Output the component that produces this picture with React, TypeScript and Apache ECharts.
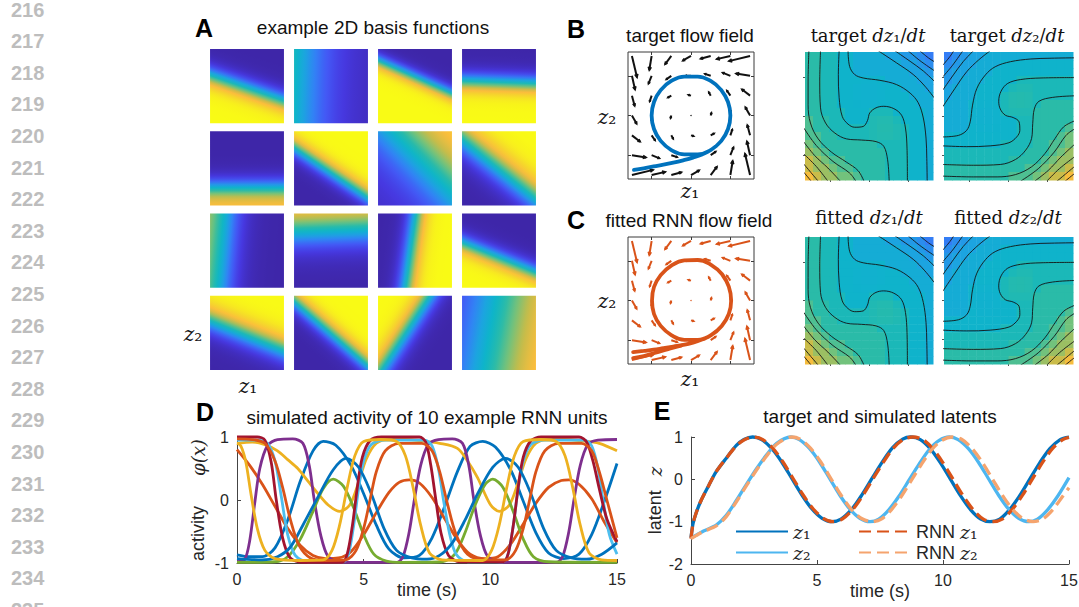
import React, { useEffect, useRef } from "react";
import * as echarts from "echarts";

const SANS = "'Liberation Sans', Arial, Helvetica, sans-serif";
const SERIF = "'DejaVu Serif', 'Liberation Serif', serif";
const INK = "#111111";
const AXIS = "#262626";

// ---------------- margin line numbers ----------------
const lineNumbers = ["216","217","218","219","220","221","222","223","224","225","226","227","228","229","230","231","232","233","234","235"];

// ---------------- panel A: basis tiles [col,row,centerX,centerY,angleDeg,width,low,high] ----------------
const basisTiles = [
  [0, 0, 0.5, 0.53, 109, 0.14, 0, 1],
  [1, 0, -0.05, 0.5, 182, 0.6, 0.02, 1],
  [2, 0, 0.5, 0.38, 114, 0.1, 0, 1],
  [3, 0, 0.5, 0.45, 92, 0.14, 0, 1],
  [0, 1, 0.5, 0.76, 90, 0.15, 0, 0.88],
  [1, 1, 0.5, 0.55, -56, 0.12, 0, 1],
  [2, 1, 0.62, 0.38, -44, 0.45, 0.05, 0.95],
  [3, 1, 0.5, 0.5, -51, 0.2, 0, 1],
  [0, 2, 0.18, 0.5, 185, 0.25, 0, 0.8],
  [1, 2, 0.5, 0.22, -92, 0.28, 0, 0.95],
  [2, 2, 0.45, 0.5, 8, 0.14, 0, 1],
  [3, 2, 0.5, 0.6, 112, 0.13, 0, 1],
  [0, 3, 0.5, 0.53, -68, 0.18, 0, 1],
  [1, 3, 0.5, 0.5, -49, 0.12, 0, 1],
  [2, 3, 0.4, 0.45, -147, 0.15, 0, 1],
  [3, 3, 0.45, 0.5, 10, 0.7, 0, 1],
];

// ---------------- panels B/C: quiver grid (rows from z2=1.5 down to -1.5) ----------------
const flowGrid = [-1.5, -1, -0.5, 0, 0.5, 1, 1.5];
const targetFlowU = [
  [0.13, -0.06, -0.16, -0.21, -0.26, -0.35, -0.54],
  [0.08, -0.08, -0.13, -0.14, -0.15, -0.2, -0.36],
  [0.07, -0.05, -0.09, -0.07, -0.05, -0.09, -0.21],
  [0.12, 0, -0.02, 0, 0.02, 0, -0.12],
  [0.21, 0.09, 0.05, 0.07, 0.09, 0.05, -0.07],
  [0.36, 0.2, 0.15, 0.14, 0.13, 0.08, -0.08],
  [0.54, 0.35, 0.26, 0.21, 0.16, 0.06, -0.13],
];
const targetFlowV = [
  [-0.54, -0.36, -0.21, -0.12, -0.07, -0.08, -0.13],
  [-0.35, -0.2, -0.09, 0, 0.05, 0.08, 0.06],
  [-0.26, -0.15, -0.05, 0.02, 0.09, 0.13, 0.16],
  [-0.21, -0.14, -0.07, 0, 0.07, 0.14, 0.21],
  [-0.16, -0.13, -0.09, -0.02, 0.05, 0.15, 0.26],
  [-0.06, -0.08, -0.05, 0, 0.09, 0.2, 0.35],
  [0.13, 0.08, 0.07, 0.12, 0.21, 0.36, 0.54],
];
// the fitted field reads identically at this resolution
const fittedFlowU = targetFlowU;
const fittedFlowV = targetFlowV;

const targetTrajectory = [
  [-1.45, -1.37], [-1.2, -1.33], [-0.95, -1.28], [-0.7, -1.24], [-0.45, -1.19], [-0.2, -1.13], [0.05, -1.06], [0.28, -0.98], [0.5, -0.87],
  [0.77, -0.64], [0.94, -0.34], [1, 0], [0.94, 0.34], [0.77, 0.64], [0.5, 0.87], [0.17, 0.98], [-0.17, 0.98], [-0.5, 0.87], [-0.77, 0.64],
  [-0.94, 0.34], [-1, 0], [-0.94, -0.34], [-0.77, -0.64], [-0.5, -0.87], [-0.17, -0.98], [0.17, -0.98], [0.5, -0.87], [0.77, -0.64],
  [0.94, -0.34], [1, 0], [0.94, 0.34], [0.77, 0.64],
];
const fittedTrajectory = [
  [-1.47, -1.3], [-1.2, -1.27], [-0.95, -1.24], [-0.7, -1.2], [-0.45, -1.16], [-0.2, -1.12], [0.05, -1.06], [0.28, -0.98], [0.5, -0.88],
  [0.78, -0.64], [0.96, -0.34], [1.02, 0], [0.96, 0.35], [0.79, 0.66], [0.51, 0.9], [0.17, 1.02], [-0.17, 1.01], [-0.5, 0.88], [-0.77, 0.64],
  [-0.94, 0.34], [-0.99, 0], [-0.94, -0.34], [-0.77, -0.64], [-0.5, -0.87], [-0.17, -0.99], [0.17, -0.99], [0.5, -0.88], [0.78, -0.64],
  [0.96, -0.34], [1.02, 0], [0.96, 0.35], [0.79, 0.66],
];
const fittedTrajectoryArm = [[-1.47, -1.45], [-1.2, -1.4], [-0.95, -1.33], [-0.7, -1.26], [-0.45, -1.19], [-0.25, -1.14]];

// ---------------- panels B/C: dz/dt fields (band levels, 16x16, top row first) ----------------
const dz1Levels = [
  [7, 7, 6, 6, 5, 5, 4, 4, 4, 4, 3, 3, 2, 2, 1, 0],
  [7, 7, 6, 6, 5, 5, 4, 4, 4, 4, 4, 4, 3, 3, 2, 1],
  [7, 7, 6, 6, 5, 5, 4, 4, 4, 4, 4, 4, 4, 3, 3, 2],
  [7, 7, 6, 6, 5, 5, 5, 4.8, 4.8, 5, 4, 4, 4, 4, 3, 3],
  [7, 7, 6, 6, 5, 5, 4.8, 4.7, 4.7, 4.8, 5, 5, 4, 4, 4, 3],
  [7, 7, 6, 6, 5, 5, 4.8, 4.7, 4.7, 4.8, 5, 5, 5, 4, 4, 4],
  [7, 7, 6, 6, 5, 5, 4.9, 4.8, 4.8, 5, 5, 5, 5, 5, 4, 4],
  [7, 7, 6, 6, 6, 5, 5, 5, 6, 6, 6, 5, 5, 5, 5, 4],
  [8, 7, 7, 6, 6, 5, 5, 5, 6.3, 6.5, 6.5, 6, 5, 5, 5, 4],
  [8, 7, 7, 6, 6, 6, 6, 6, 6.3, 6.6, 6.6, 6.3, 6, 5, 5, 4],
  [8, 8, 7, 7, 6, 6, 6, 6, 6.3, 6.5, 6.5, 6.3, 6, 5, 5, 4],
  [9, 8, 7, 7, 7, 7, 7, 7, 7, 6, 6, 6, 6, 5, 5, 4],
  [10, 9, 8, 7, 7, 7, 7, 7, 7, 7, 6, 6, 6, 5, 5, 4],
  [11, 10, 9, 8, 8, 7, 7, 7, 7, 7, 6, 6, 6, 5, 5, 4],
  [11, 10, 10, 9, 8, 8, 7, 7, 7, 7, 6, 6, 6, 5, 5, 4],
  [12, 11, 10, 10, 9, 9, 8, 7, 7, 7, 6, 6, 6, 5, 5, 4],
];
const dz2Levels = [
  [0, 1, 2, 3, 3, 4, 4, 4, 4, 4, 4, 4, 4, 4, 4, 4],
  [1, 2, 3, 3, 4, 4, 4, 5, 5, 5, 5, 5, 5, 5, 5, 5],
  [2, 3, 3, 4, 4, 4, 5, 5, 5, 5, 5, 5, 5, 5, 5, 5],
  [2, 3, 4, 4, 4, 5, 5, 5, 5, 6, 6, 6, 6, 6, 6, 6],
  [3, 4, 4, 4, 5, 5, 5, 5, 6, 6.3, 6.3, 6, 6, 6, 6, 6],
  [3, 4, 4, 4, 5, 5, 5, 6, 6.5, 6.6, 6.5, 6, 6, 6, 6, 6],
  [4, 4, 4, 5, 4.8, 4.8, 5, 6, 6.5, 6.6, 6.5, 6, 7, 7, 7, 7],
  [4, 4, 4, 4.8, 4.7, 4.7, 4.8, 6, 6.3, 6.3, 6.3, 7, 7, 7, 7, 7],
  [4, 4, 4, 4.8, 4.7, 4.7, 4.8, 5, 5, 6, 6, 7, 7, 7, 7, 7],
  [4, 4, 4, 5, 4.8, 4.8, 4.9, 5, 5, 6, 6, 7, 7, 7, 7, 8],
  [5, 5, 5, 5, 5, 5, 5, 5, 5, 6, 6, 7, 7, 7, 8, 9],
  [5, 5, 5, 5, 5, 5, 5, 6, 6, 6, 6, 7, 7, 8, 8, 9],
  [6, 6, 6, 6, 6, 6, 6, 6, 6, 6, 7, 7, 7, 8, 9, 10],
  [6, 6, 6, 6, 6, 6, 6, 6, 7, 7, 7, 7, 8, 9, 10, 10],
  [7, 7, 7, 7, 7, 7, 7, 7, 7, 7, 8, 8, 9, 10, 10, 11],
  [7, 7, 7, 7, 7, 7, 7, 7, 8, 8, 8, 9, 10, 11, 11, 12],
];
const dz1Contours = [
  [[1.31, 1.68], [1.53, 1.5], [1.68, 1.4]],
  [[1.01, 1.68], [1.31, 1.43], [1.68, 1.17]],
  [[0.67, 1.68], [1.06, 1.41], [1.4, 1.16], [1.68, 0.9]],
  [[0.24, 1.68], [0.71, 1.37], [1.14, 1.07], [1.44, 0.77], [1.68, 0.47]],
  [[-0.54, 1.68], [-0.5, 1.28], [-0.37, 1.07], [-0.15, 0.98], [0.28, 0.92], [0.71, 0.81], [1.06, 0.59], [1.27, 0.34], [1.4, -0.05], [1.47, -0.57], [1.49, -1.09], [1.5, -1.68]],
  [[-0.77, 1.68], [-0.79, 1.07], [-0.77, 0.47], [-0.69, -0.01], [-0.54, -0.21], [-0.37, -0.29], [-0.15, -0.27], [-0.04, -0.12], [0.02, 0.08], [0.18, 0.21], [0.38, 0.25], [0.64, 0.19], [0.84, 0.02], [0.94, -0.31], [0.98, -0.83], [0.99, -1.68]],
  [[-1.25, 1.68], [-1.27, 0.9], [-1.25, 0.21], [-1.12, -0.18], [-0.88, -0.44], [-0.58, -0.59], [-0.19, -0.62], [0.18, -0.66], [0.38, -0.78], [0.48, -1.13], [0.52, -1.68]],
  [[-1.55, 1.68], [-1.57, 0.9], [-1.57, 0.29], [-1.51, -0.18], [-1.31, -0.59], [-0.97, -0.93], [-0.58, -1.19], [-0.28, -1.41], [-0.13, -1.68]],
  [[-1.68, -0.31], [-1.36, -0.76], [-0.93, -1.17], [-0.5, -1.47], [-0.34, -1.68]],
  [[-1.68, -0.67], [-1.4, -1.02], [-1.06, -1.34], [-0.74, -1.68]],
  [[-1.68, -0.98], [-1.36, -1.3], [-1.06, -1.68]],
  [[-1.68, -1.24], [-1.31, -1.68]],
  [[-1.68, -1.45], [-1.49, -1.68]],
];
const dz2Contours = [
  [[-1.68, 1.31], [-1.5, 1.53], [-1.4, 1.68]],
  [[-1.68, 1.01], [-1.43, 1.31], [-1.17, 1.68]],
  [[-1.68, 0.67], [-1.41, 1.06], [-1.16, 1.4], [-0.9, 1.68]],
  [[-1.68, 0.24], [-1.37, 0.71], [-1.07, 1.14], [-0.77, 1.44], [-0.47, 1.68]],
  [[-1.68, -0.54], [-1.28, -0.5], [-1.07, -0.37], [-0.98, -0.15], [-0.92, 0.28], [-0.81, 0.71], [-0.59, 1.06], [-0.34, 1.27], [0.05, 1.4], [0.57, 1.47], [1.09, 1.49], [1.68, 1.5]],
  [[-1.68, -0.77], [-1.07, -0.79], [-0.47, -0.77], [0.01, -0.69], [0.21, -0.54], [0.29, -0.37], [0.27, -0.15], [0.12, -0.04], [-0.08, 0.02], [-0.21, 0.18], [-0.25, 0.38], [-0.19, 0.64], [-0.02, 0.84], [0.31, 0.94], [0.83, 0.98], [1.68, 0.99]],
  [[-1.68, -1.25], [-0.9, -1.27], [-0.21, -1.25], [0.18, -1.12], [0.44, -0.88], [0.59, -0.58], [0.62, -0.19], [0.66, 0.18], [0.78, 0.38], [1.13, 0.48], [1.68, 0.52]],
  [[-1.68, -1.55], [-0.9, -1.57], [-0.29, -1.57], [0.18, -1.51], [0.59, -1.31], [0.93, -0.97], [1.19, -0.58], [1.41, -0.28], [1.68, -0.13]],
  [[0.31, -1.68], [0.76, -1.36], [1.17, -0.93], [1.47, -0.5], [1.68, -0.34]],
  [[0.67, -1.68], [1.02, -1.4], [1.34, -1.06], [1.68, -0.74]],
  [[0.98, -1.68], [1.3, -1.36], [1.68, -1.06]],
  [[1.24, -1.68], [1.68, -1.31]],
  [[1.45, -1.68], [1.68, -1.49]],
];

// ---------------- panel D: 10 RNN units [time, activity] ----------------
const unit1 = [[0,-0.87],[0.5,-0.9],[1,-0.9],[1.5,-0.76],[2,-0.32],[2.5,0.3],[3,0.78],[3.4,0.93],[3.9,0.87],[4.5,0.55],[5,0.1],[5.5,-0.4],[6,-0.78],[6.6,-0.92],[7.2,-0.88],[7.7,-0.6],[8.2,-0.1],[8.7,0.45],[9.2,0.85],[9.7,0.93],[10.2,0.84],[10.8,0.48],[11.3,-0.02],[11.8,-0.52],[12.3,-0.84],[12.9,-0.93],[13.5,-0.86],[14,-0.55],[14.5,-0.02],[15,0.58]];
const unit2 = [[0,0.8],[0.5,0.55],[1,0.25],[1.5,-0.1],[2,-0.45],[2.5,-0.72],[3,-0.88],[3.5,-0.93],[4,-0.92],[4.5,-0.82],[5,-0.55],[5.5,-0.2],[6,0.12],[6.4,0.28],[6.8,0.32],[7.2,0.27],[7.7,0.04],[8.2,-0.3],[8.7,-0.63],[9.2,-0.86],[9.8,-0.93],[10.3,-0.9],[10.8,-0.7],[11.3,-0.38],[11.8,-0.05],[12.3,0.2],[12.8,0.31],[13.1,0.32],[13.5,0.25],[14,0.02],[14.5,-0.35],[15,-0.68]];
const unit3 = [[0,0.9],[0.6,0.92],[1.1,0.88],[1.6,0.78],[2,0.64],[2.4,0.5],[2.8,0.3],[3.2,0.1],[3.6,-0.08],[4.05,-0.18],[4.45,-0.08],[4.8,0.28],[5.1,0.65],[5.5,0.9],[6,0.96],[6.6,0.96],[7.3,0.94],[8,0.9],[8.7,0.82],[9.1,0.62],[9.5,0.35],[10,-0.07],[10.35,-0.18],[10.75,-0.08],[11.1,0.28],[11.4,0.65],[11.8,0.9],[12.3,0.96],[12.9,0.96],[13.6,0.94],[14.3,0.9],[15,0.78]];
const unit4 = [[0,-0.98],[0.3,-0.95],[0.5,-0.65],[0.7,-0.05],[0.9,0.5],[1.2,0.86],[1.6,0.96],[2.2,0.97],[2.6,0.9],[2.85,0.55],[3.05,0],[3.3,-0.55],[3.6,-0.9],[4.1,-0.99],[6.3,-0.99],[6.55,-0.9],[6.8,-0.5],[7,0],[7.25,0.55],[7.55,0.88],[7.95,0.96],[8.5,0.97],[8.9,0.9],[9.15,0.55],[9.35,0],[9.6,-0.55],[9.9,-0.9],[10.4,-0.99],[12.6,-0.99],[12.85,-0.9],[13.1,-0.5],[13.3,0],[13.55,0.55],[13.85,0.88],[14.25,0.95],[15,0.96]];
const unit5 = [[0,-0.99],[1.5,-0.98],[2,-0.9],[2.5,-0.62],[3,-0.18],[3.4,0.18],[3.8,0.33],[4.2,0.22],[4.6,-0.12],[5,-0.55],[5.4,-0.86],[5.9,-0.97],[6.5,-0.99],[8.1,-0.98],[8.6,-0.86],[9,-0.52],[9.4,-0.08],[9.8,0.25],[10.1,0.33],[10.5,0.2],[10.9,-0.18],[11.3,-0.62],[11.7,-0.9],[12.3,-0.98],[15,-0.99]];
const unit6 = [[0,0.95],[0.8,0.95],[1.2,0.9],[1.5,0.62],[1.75,0.05],[2,-0.55],[2.3,-0.88],[2.8,-0.98],[4.2,-0.98],[4.4,-0.86],[4.6,-0.42],[4.8,0.18],[5,0.62],[5.3,0.88],[5.8,0.95],[7.4,0.95],[7.7,0.86],[7.95,0.5],[8.15,0],[8.4,-0.55],[8.65,-0.86],[9.1,-0.98],[10.5,-0.98],[10.7,-0.86],[10.9,-0.42],[11.1,0.18],[11.3,0.62],[11.6,0.88],[12.1,0.95],[13.7,0.95],[14,0.86],[14.25,0.5],[14.45,0],[14.7,-0.55],[15,-0.86]];
const unit7 = [[0,1],[0.8,1],[1.1,0.95],[1.35,0.6],[1.55,0],[1.8,-0.6],[2.1,-0.92],[2.6,-0.99],[4.15,-0.99],[4.35,-0.86],[4.55,-0.42],[4.75,0.2],[4.95,0.68],[5.25,0.94],[5.7,1],[7.2,1],[7.45,0.92],[7.65,0.55],[7.85,0],[8.05,-0.52],[8.35,-0.88],[8.8,-0.98],[10.5,-0.98],[10.7,-0.86],[10.9,-0.42],[11.1,0.2],[11.3,0.68],[11.6,0.94],[12,1],[13.5,1],[13.8,0.92],[14.05,0.62],[14.3,0.18],[14.6,-0.3],[15,-0.66]];
const unit8 = [[0,-0.93],[1,-0.95],[1.6,-0.9],[2.1,-0.75],[2.6,-0.4],[3.2,0.05],[3.8,0.48],[4.3,0.66],[4.8,0.52],[5.3,0.1],[5.8,-0.45],[6.3,-0.8],[6.9,-0.92],[7.5,-0.94],[8,-0.88],[8.5,-0.68],[9,-0.32],[9.5,0.1],[10.1,0.52],[10.6,0.66],[11.1,0.52],[11.6,0.1],[12.1,-0.45],[12.6,-0.8],[13.2,-0.92],[13.8,-0.94],[14.4,-0.86],[15,-0.68]];
const unit9 = [[0,0.97],[0.6,0.96],[1.1,0.9],[1.5,0.62],[1.8,0.2],[2.1,-0.3],[2.45,-0.72],[2.9,-0.92],[3.5,-0.96],[4.3,-0.95],[4.7,-0.8],[5,-0.45],[5.25,0],[5.5,0.45],[5.85,0.78],[6.4,0.9],[7.3,0.9],[7.7,0.78],[8,0.45],[8.3,-0.05],[8.65,-0.55],[9.1,-0.86],[9.7,-0.95],[10.6,-0.95],[11,-0.8],[11.3,-0.45],[11.55,0],[11.8,0.45],[12.15,0.78],[12.7,0.9],[13.6,0.9],[14,0.78],[14.3,0.45],[14.6,0],[15,-0.6]];
const unit10 = [[0,0.9],[0.15,0.86],[0.35,0.6],[0.55,0.1],[0.8,-0.45],[1.1,-0.8],[1.5,-0.93],[2.5,-0.96],[3.4,-0.95],[3.75,-0.8],[4.05,-0.4],[4.35,0.2],[4.65,0.7],[5,0.93],[5.7,0.96],[6.3,0.93],[6.65,0.7],[6.95,0.2],[7.25,-0.4],[7.6,-0.84],[8.1,-0.95],[9.7,-0.96],[10.05,-0.8],[10.35,-0.4],[10.65,0.2],[10.95,0.7],[11.3,0.93],[12,0.96],[12.6,0.93],[12.95,0.7],[13.25,0.2],[13.55,-0.4],[13.9,-0.84],[14.4,-0.95],[15,-0.96]];
const units = [unit1, unit2, unit3, unit4, unit5, unit6, unit7, unit8, unit9, unit10];
const unitColors = ["#0072BD", "#D95319", "#EDB120", "#7E2F8E", "#77AC30", "#4DBEEE", "#A2142F", "#0072BD", "#D95319", "#EDB120"];

// ---------------- panel E: latents [time, z] ----------------
const latentZ1 = [[0,-1.38],[0.08,-1.05],[0.2,-0.8],[0.4,-0.5],[0.7,-0.15],[1,0.18],[1.4,0.5],[1.8,0.8],[2.1,0.94],[2.45,1],[2.8,0.94],[3.2,0.73],[3.6,0.41],[4,0.02],[4.4,-0.37],[4.8,-0.7],[5.2,-0.92],[5.58,-1],[5.95,-0.94],[6.4,-0.69],[6.8,-0.35],[7.2,0.04],[7.6,0.42],[8,0.75],[8.4,0.95],[8.72,1],[9.1,0.94],[9.5,0.72],[9.9,0.39],[10.3,0],[10.7,-0.39],[11.1,-0.72],[11.5,-0.94],[11.86,-1],[12.25,-0.94],[12.65,-0.71],[13.05,-0.38],[13.45,0.01],[13.85,0.4],[14.25,0.73],[14.65,0.94],[15,1]];
const latentZ2 = [[0,-1.38],[0.2,-1.32],[0.5,-1.22],[1,-1.08],[1.4,-0.85],[1.8,-0.5],[2.2,-0.12],[2.6,0.25],[3,0.58],[3.4,0.85],[3.95,1],[4.3,0.94],[4.7,0.73],[5.1,0.41],[5.5,0.02],[5.9,-0.37],[6.3,-0.7],[6.7,-0.92],[7.1,-1],[7.45,-0.94],[7.85,-0.72],[8.25,-0.4],[8.65,-0.02],[9.05,0.36],[9.45,0.7],[9.85,0.92],[10.25,1],[10.6,0.94],[11,0.73],[11.4,0.41],[11.8,0.02],[12.2,-0.37],[12.6,-0.7],[13,-0.92],[13.4,-1],[13.75,-0.94],[14.15,-0.72],[14.55,-0.4],[15,0.04]];
const rnnZ1 = [[0,-1.4],[0.08,-1.05],[0.2,-0.8],[0.4,-0.5],[0.7,-0.15],[1,0.18],[1.4,0.5],[1.8,0.79],[2.1,0.93],[2.5,1],[2.85,0.94],[3.25,0.73],[3.65,0.41],[4.05,0.02],[4.45,-0.37],[4.85,-0.7],[5.25,-0.92],[5.63,-1],[6,-0.94],[6.45,-0.69],[6.85,-0.35],[7.25,0.04],[7.65,0.42],[8.05,0.75],[8.45,0.95],[8.8,1],[9.2,0.94],[9.6,0.72],[10,0.39],[10.4,0],[10.8,-0.39],[11.2,-0.72],[11.6,-0.94],[11.97,-1],[12.35,-0.94],[12.75,-0.71],[13.15,-0.38],[13.55,0.01],[13.95,0.4],[14.35,0.73],[14.75,0.94],[15,0.99]];
const rnnZ2 = [[0,-1.4],[0.2,-1.33],[0.5,-1.23],[1,-1.1],[1.4,-0.88],[1.8,-0.53],[2.2,-0.15],[2.6,0.22],[3,0.55],[3.4,0.83],[4,1],[4.35,0.94],[4.75,0.73],[5.15,0.41],[5.55,0.02],[5.95,-0.37],[6.35,-0.7],[6.75,-0.92],[7.17,-1],[7.55,-0.94],[7.95,-0.72],[8.35,-0.4],[8.75,-0.02],[9.15,0.36],[9.55,0.7],[9.95,0.92],[10.37,1],[10.75,0.94],[11.15,0.73],[11.55,0.41],[11.95,0.02],[12.35,-0.37],[12.75,-0.7],[13.15,-0.92],[13.57,-1],[13.95,-0.94],[14.35,-0.72],[14.75,-0.4],[15,-0.2]];

// ---------------- colour map (parula-like) ----------------
const PARULA: [number, number[]][] = [
  [0.0, [62, 38, 168]], [0.1, [70, 56, 224]], [0.18, [67, 88, 245]], [0.27, [50, 130, 245]],
  [0.36, [28, 164, 224]], [0.45, [13, 181, 200]], [0.55, [42, 187, 168]], [0.65, [114, 194, 124]],
  [0.75, [197, 188, 74]], [0.85, [251, 189, 60]], [0.93, [245, 217, 42]], [1.0, [249, 251, 21]],
];
function parula(v: number): string {
  const t = Math.max(0, Math.min(1, v));
  for (let k = 1; k < PARULA.length; k++) {
    if (t <= PARULA[k][0]) {
      const [t0, c0] = PARULA[k - 1];
      const [t1, c1] = PARULA[k];
      const f = (t - t0) / (t1 - t0);
      const c = c0.map((a, i) => Math.round(a + (c1[i] - a) * f));
      return `rgb(${c[0]},${c[1]},${c[2]})`;
    }
  }
  return "rgb(249,251,21)";
}
const fieldPalette = [0.26, 0.3, 0.33, 0.36, 0.4, 0.44, 0.5, 0.55, 0.6, 0.65, 0.7, 0.76, 0.84];
function levelColor(lv: number): string {
  const i = Math.max(0, Math.min(12, Math.floor(lv)));
  const f = lv - i;
  const a = fieldPalette[i];
  const b = fieldPalette[Math.min(12, i + 1)];
  return parula(a + (b - a) * f);
}

function buildOption() {
  const grid: any[] = [];
  const xAxis: any[] = [];
  const yAxis: any[] = [];
  const series: any[] = [];
  const addGrid = (g: any) => { grid.push({ outerBoundsMode: "none", containLabel: false, ...g }); return grid.length - 1; };
  const addX = (a: any) => { xAxis.push({ nameMoveOverlap: false, ...a }); return xAxis.length - 1; };
  const addY = (a: any) => { yAxis.push({ nameMoveOverlap: false, ...a }); return yAxis.length - 1; };

  // ---- panel A ----
  const gA = addGrid({ left: 205, top: 45, width: 336, height: 329 });
  const xA = addX({ type: "value", gridIndex: gA, min: 0, max: 4, show: false });
  const yA = addY({ type: "value", gridIndex: gA, min: 0, max: 4, inverse: true, show: false });
  series.push({
    type: "custom", xAxisIndex: xA, yAxisIndex: yA, silent: true,
    data: basisTiles.map((t) => [t[0], t[1]]),
    renderItem: (params: any, api: any) => {
      const t = basisTiles[params.dataIndex];
      const col = api.value(0), row = api.value(1);
      const p0 = api.coord([col + 0.06, row + 0.05]);
      const p1 = api.coord([col + 0.94, row + 0.95]);
      const [, , cx, cy, ang, w, lo, hi] = t;
      const a = (ang * Math.PI) / 180;
      const nx = Math.cos(a), ny = Math.sin(a), L = 1.3, N = 64;
      const stops: any[] = [];
      for (let k = 0; k <= N; k++) {
        const s = -L + (2 * L * k) / N;
        const f = 0.5 + 0.5 * Math.tanh(s / w);
        stops.push({ offset: k / N, color: parula(lo + (hi - lo) * f) });
      }
      const fill = new echarts.graphic.LinearGradient(cx - nx * L, cy - ny * L, cx + nx * L, cy + ny * L, stops);
      return { type: "rect", shape: { x: p0[0], y: p0[1], width: p1[0] - p0[0], height: p1[1] - p0[1] }, style: { fill } };
    },
  });

  // ---- flow field panels ----
  const addFlow = (top: number, arrowColor: string, lineColor: string, U: number[][], V: number[][], trajs: number[][][]) => {
    const g = addGrid({ left: 628, top, width: 126, height: 127, show: true, borderColor: "#3a3a3a", borderWidth: 1, backgroundColor: "rgba(0,0,0,0)" });
    const tickAxis = (pos: string) => ({
      type: "value", gridIndex: g, min: -1.6, max: 1.6, position: pos,
      axisLine: { show: false, onZero: false }, axisLabel: { show: false }, splitLine: { show: false },
      axisTick: { show: true, inside: true, length: 3, customValues: [-1, 0, 1], lineStyle: { color: "#3a3a3a", width: 1 } },
    });
    const xb = addX(tickAxis("bottom"));
    addX(tickAxis("top"));
    const yl = addY(tickAxis("left"));
    addY(tickAxis("right"));
    const data: number[][] = [];
    U.forEach((row, r) => row.forEach((u, c) => data.push([flowGrid[c], flowGrid[6 - r], u, V[r][c]])));
    series.push({
      type: "custom", xAxisIndex: xb, yAxisIndex: yl, silent: true, z: 3, data,
      renderItem: (_p: any, api: any) => {
        const x = api.value(0), y = api.value(1), u = api.value(2), v = api.value(3);
        const p0 = api.coord([x, y]);
        const p1 = api.coord([x + u, y + v]);
        const dx = p1[0] - p0[0], dy = p1[1] - p0[1];
        const len = Math.hypot(dx, dy);
        if (len < 1) return { type: "circle", shape: { cx: p0[0], cy: p0[1], r: 0.7 }, style: { fill: arrowColor } };
        const an = Math.atan2(dy, dx);
        const h = Math.min(3.6, Math.max(1.8, len * 0.28));
        const h1 = [p1[0] - h * Math.cos(an - 0.45), p1[1] - h * Math.sin(an - 0.45)];
        const h2 = [p1[0] - h * Math.cos(an + 0.45), p1[1] - h * Math.sin(an + 0.45)];
        return {
          type: "group",
          children: [
            { type: "line", shape: { x1: p0[0], y1: p0[1], x2: p1[0], y2: p1[1] }, style: { stroke: arrowColor, lineWidth: 2 } },
            { type: "polyline", shape: { points: [h1, p1, h2] }, style: { stroke: arrowColor, fill: null, lineWidth: 1.6 } },
          ],
        };
      },
    });
    trajs.forEach((tr) => series.push({
      type: "line", xAxisIndex: xb, yAxisIndex: yl, data: tr, smooth: 0.45, symbol: "none", silent: true, z: 4,
      lineStyle: { color: lineColor, width: 3.8, cap: "round" },
    }));
  };
  addFlow(52, "#111111", "#0072BD", targetFlowU, targetFlowV, [targetTrajectory]);
  addFlow(237, "#D95319", "#D95319", fittedFlowU, fittedFlowV, [fittedTrajectory, fittedTrajectoryArm]);

  // ---- dz/dt field panels ----
  const addField = (left: number, top: number, width: number, height: number, levels: number[][], contours: number[][][]) => {
    const g = addGrid({ left, top, width, height });
    const ax = {
      type: "value", gridIndex: g, min: -1.65, max: 1.65,
      axisLine: { show: false, onZero: false }, axisLabel: { show: false }, splitLine: { show: false },
      axisTick: { show: true, inside: false, length: 2, customValues: [-1, 0, 1], lineStyle: { color: "#555", width: 1 } },
    };
    const x = addX({ ...ax });
    const y = addY({ ...ax });
    const data: number[][] = [];
    levels.forEach((row, j) => row.forEach((lv, i) => data.push([i, j, lv])));
    const n = levels.length;
    series.push({
      type: "custom", xAxisIndex: x, yAxisIndex: y, silent: true, z: 1, data,
      renderItem: (_p: any, api: any) => {
        const i = api.value(0), j = api.value(1), lv = api.value(2);
        const s = 3.3 / n;
        const x0 = -1.65 + i * s, y0 = 1.65 - j * s;
        const p0 = api.coord([x0, y0]);
        const p1 = api.coord([x0 + s, y0 - s]);
        return { type: "rect", shape: { x: p0[0], y: p0[1], width: p1[0] - p0[0] + 0.5, height: p1[1] - p0[1] + 0.5 }, style: { fill: levelColor(lv) } };
      },
    });
    contours.forEach((c) => series.push({
      type: "line", xAxisIndex: x, yAxisIndex: y, data: c, smooth: 0.35, symbol: "none", silent: true, z: 3, clip: true,
      lineStyle: { color: "#141414", width: 0.9 },
    }));
  };
  addField(805, 52, 128, 128, dz1Levels, dz1Contours);
  addField(944, 52, 129, 128, dz2Levels, dz2Contours);
  addField(805, 237, 128, 127, dz1Levels, dz1Contours);
  addField(944, 237, 129, 127, dz2Levels, dz2Contours);

  // ---- time-series axes (D, E) ----
  const timeAxis = (g: number) => ({
    type: "value", gridIndex: g, min: 0, max: 15, interval: 5,
    axisLine: { show: true, onZero: false, lineStyle: { color: "#444", width: 1 } },
    axisTick: { show: true, inside: true, length: 4, lineStyle: { color: "#444" } },
    axisLabel: { color: AXIS, fontSize: 16, fontFamily: SANS, margin: 8 },
    splitLine: { show: false },
    name: "time (s)", nameLocation: "middle", nameGap: 18,
    nameTextStyle: { color: AXIS, fontSize: 18, fontFamily: SANS },
  });
  const valueAxis = (g: number, min: number, name: string, gap: number, spacer: number) => ({
    type: "value", gridIndex: g, min, max: 1, interval: 1,
    axisLine: { show: true, onZero: false, lineStyle: { color: "#444", width: 1 } },
    axisTick: { show: true, inside: true, length: 4, lineStyle: { color: "#444" } },
    axisLabel: { color: AXIS, fontSize: 16, fontFamily: SANS, margin: 8 },
    splitLine: { show: false },
    name, nameLocation: "middle", nameGap: gap, nameRotate: 90,
    nameTextStyle: {
      color: AXIS, fontSize: 18, fontFamily: SANS,
      rich: {
        a: { color: AXIS, fontSize: 18, fontFamily: SANS },
        g: { width: spacer },
        m: { color: AXIS, fontSize: 18, fontFamily: SERIF, fontStyle: "italic" },
      },
    },
  });

  const gD = addGrid({ left: 237, top: 437, width: 380, height: 126 });
  const xD = addX(timeAxis(gD));
  const yD = addY(valueAxis(gD, -1, "{a|activity}{g| }{m|φ(x)}", 30, 30));
  units.forEach((u, k) => series.push({
    type: "line", name: `unit ${k + 1}`, xAxisIndex: xD, yAxisIndex: yD, data: u, smooth: 0.3, symbol: "none",
    clip: false, silent: true, lineStyle: { color: unitColors[k], width: 2.8 },
  }));

  const gE = addGrid({ left: 691, top: 437, width: 378, height: 127 });
  const xE = addX(timeAxis(gE));
  const yE = addY(valueAxis(gE, -2, "{a|latent}{g| }{m|z}", 27, 14));
  const eLine = (name: string, data: number[][], color: string, dashed: boolean) => ({
    type: "line", name, xAxisIndex: xE, yAxisIndex: yE, data, smooth: 0.3, symbol: "none", clip: false, silent: true,
    lineStyle: { color, width: 3.3, type: dashed ? [12, 6] : "solid" },
    itemStyle: { color, opacity: 0 },
  });
  series.push(eLine("z1", latentZ1, "#0072BD", false));
  series.push(eLine("z2", latentZ2, "#4DB6F0", false));
  series.push(eLine("RNN z1", rnnZ1, "#D95319", true));
  series.push(eLine("RNN z2", rnnZ2, "#F5A46E", true));

  const legendRich = {
    m: { fontFamily: SERIF, fontStyle: "italic", fontSize: 19, color: AXIS, lineHeight: 18 },
    s: { fontFamily: SERIF, fontSize: 19, color: AXIS, lineHeight: 18 },
    r: { fontFamily: SANS, fontSize: 18, color: AXIS, lineHeight: 18 },
  };
  const subs: Record<string, string> = { "z1": "{m|z}{s|₁}", "z2": "{m|z}{s|₂}", "RNN z1": "{r|RNN }{m|z}{s|₁}", "RNN z2": "{r|RNN }{m|z}{s|₂}" };
  const legend = [
    { data: ["z1", "z2"], left: 735, top: 522 },
    { data: ["RNN z1", "RNN z2"], left: 858, top: 522 },
  ].map((l) => ({
    ...l, orient: "vertical", itemWidth: 52, itemHeight: 14, itemGap: 2, padding: 0, selectedMode: false,
    itemStyle: { opacity: 0, borderWidth: 0 },
    formatter: (n: string) => subs[n],
    textStyle: { color: AXIS, fontFamily: SANS, fontSize: 18, lineHeight: 18, rich: legendRich },
  }));

  // ---- static texts ----
  const g: any[] = [];
  lineNumbers.forEach((s, i) => g.push({
    type: "text", x: 11, y: 9.5 + 31.6 * i, silent: true,
    style: { text: s, fill: "#bdbdbd", fontFamily: SANS, fontWeight: "bold", fontSize: 20, align: "left", verticalAlign: "middle" },
  }));
  const label = (x: number, y: number, text: string, extra: any = {}) => g.push({
    type: "text", x, y, silent: true,
    style: { text, fill: INK, fontFamily: SANS, fontSize: 19, align: "center", verticalAlign: "middle", ...extra },
  });
  const letter = (x: number, y: number, t: string) => label(x, y, t, { fontWeight: "bold", fontSize: 25, fill: "#000" });
  letter(204, 28, "A"); letter(576, 29, "B"); letter(576, 220, "C"); letter(205, 412, "D"); letter(662, 411, "E");
  label(373, 27, "example 2D basis functions");
  label(690, 35, "target flow field");
  label(689, 220, "fitted RNN flow field");
  label(427, 417, "simulated activity of 10 example RNN units");
  label(880, 416, "target and simulated latents");
  const mathRich = (size: number) => ({
    i: { fontFamily: SERIF, fontStyle: "italic", fontSize: size, fill: INK },
    r: { fontFamily: SERIF, fontSize: size, fill: INK },
  });
  const math = (x: number, y: number, text: string, size: number) => label(x, y, text, { fontFamily: SERIF, fontSize: size, rich: mathRich(size) });
  math(868, 35, "{r|target }{i|dz}{r|₁/}{i|dt}", 18);
  math(1007, 35, "{r|target }{i|dz}{r|₂/}{i|dt}", 18);
  math(869, 217, "{r|fitted }{i|dz}{r|₁/}{i|dt}", 18);
  math(1008, 217, "{r|fitted }{i|dz}{r|₂/}{i|dt}", 18);
  math(193, 334, "{i|z}{r|₂}", 20);
  math(248, 386, "{i|z}{r|₁}", 20);
  math(607, 117, "{i|z}{r|₂}", 20);
  math(690, 191, "{i|z}{r|₁}", 20);
  math(607, 301, "{i|z}{r|₂}", 20);
  math(690, 379, "{i|z}{r|₁}", 20);

  return {
    animation: false,
    backgroundColor: "#ffffff",
    grid, xAxis, yAxis, series, legend,
    graphic: { elements: g },
  };
}

export default function App() {
  const ref = useRef<HTMLDivElement>(null);
  useEffect(() => {
    const chart = echarts.init(ref.current!, null, { renderer: "svg" });
    chart.setOption(buildOption() as any);
    return () => chart.dispose();
  }, []);
  return <div ref={ref} style={{ position: "absolute", left: 0, top: 0, width: 1079, height: 607, background: "#fff" }} />;
}
